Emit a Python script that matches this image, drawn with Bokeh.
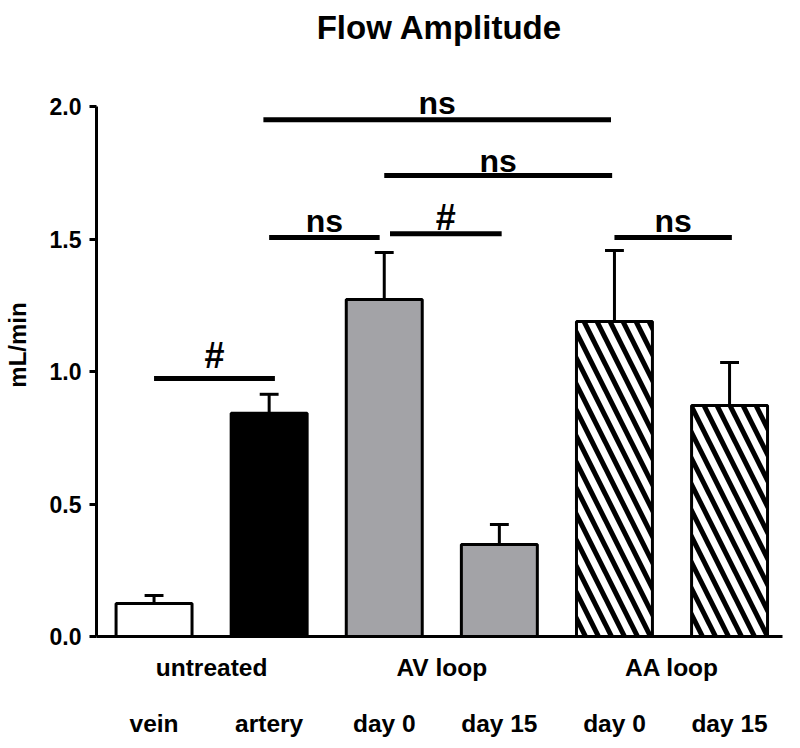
from bokeh.plotting import figure
from bokeh.models import LinearAxis, FixedTicker, PrintfTickFormatter, Range1d, ColumnDataSource
from bokeh.core.properties import value
from bokeh.embed import file_html
from bokeh.resources import INLINE

# ---- data ----
sub_labels = ["vein", "artery", "day 0", "day 15", "day 0", "day 15"]
group_labels = ["untreated", "AV loop", "AA loop"]
means = [0.125, 0.842, 1.272, 0.347, 1.189, 0.872]
err_up = [0.03, 0.072, 0.177, 0.076, 0.268, 0.162]
fills = ["white", "black", "#a3a3a7", "#a3a3a7", "white", "white"]
hatches = [" ", " ", " ", " ", "\\", "\\"]

sig_x0 = [0.0, 1.0, 2.05, 4.0, 2.0, 0.95]
sig_x1 = [1.05, 1.96, 3.02, 5.02, 3.98, 3.97]
sig_y = [0.974, 1.506, 1.52, 1.506, 1.74, 1.95]
sig_text = ["#", "ns", "#", "ns", "ns", "ns"]
sig_text_y = [1.023, 1.532, 1.543, 1.532, 1.758, 1.974]
y_ticks = [0.0, 0.5, 1.0, 1.5, 2.0]

FONT = "Liberation Sans"

xs = list(range(len(means)))
group_pos = [(xs[2 * i] + xs[2 * i + 1]) / 2 for i in range(len(group_labels))]

p = figure(width=784, height=740, x_range=Range1d(-0.5, 5.46), y_range=Range1d(0, 2.2),
           output_backend="svg", toolbar_location=None, title="Flow Amplitude",
           min_border_left=88, min_border_right=2, min_border_top=53, min_border_bottom=104,
           x_axis_type=None)
p.outline_line_color = None
p.grid.visible = False
p.background_fill_color = "white"
p.border_fill_color = "white"

p.title.text_font = FONT
p.title.text_font_size = "33px"
p.title.text_font_style = "bold"
p.title.align = "center"
p.title.vertical_align = "top"
p.title.text_color = "black"
p.title.standoff = 12

ya = p.yaxis[0]
ya.bounds = (0, 2)
ya.ticker = FixedTicker(ticks=y_ticks)
ya.formatter = PrintfTickFormatter(format="%.1f")
ya.axis_line_width = 3
ya.axis_line_color = "black"
ya.major_tick_line_width = 3
ya.major_tick_line_color = "black"
ya.major_tick_out = 7
ya.major_tick_in = 0
ya.minor_tick_out = 0
ya.minor_tick_in = 0
ya.major_label_text_font = FONT
ya.major_label_text_font_size = "23px"
ya.major_label_text_font_style = "bold"
ya.major_label_text_color = "black"
ya.major_label_standoff = 8
ya.axis_label = "mL/min"
ya.axis_label_text_font = FONT
ya.axis_label_text_font_size = "24px"
ya.axis_label_text_font_style = "bold"
ya.axis_label_text_color = "black"
ya.axis_label_standoff = 16

xa1 = LinearAxis(ticker=FixedTicker(ticks=group_pos),
                 major_label_overrides={float(g): t for g, t in zip(group_pos, group_labels)})
xa2 = LinearAxis(ticker=FixedTicker(ticks=xs),
                 major_label_overrides={float(x): t for x, t in zip(xs, sub_labels)})
for ax, so in ((xa1, 17), (xa2, 26)):
    ax.major_tick_line_color = None
    ax.minor_tick_line_color = None
    ax.major_tick_out = 0
    ax.major_tick_in = 0
    ax.minor_tick_out = 0
    ax.minor_tick_in = 0
    ax.major_label_text_font = FONT
    ax.major_label_text_font_size = "24.5px"
    ax.major_label_text_font_style = "bold"
    ax.major_label_text_color = "black"
    ax.major_label_standoff = so
xa1.axis_line_width = 3
xa1.axis_line_color = "black"
xa2.axis_line_color = None
p.add_layout(xa1, "below")
p.add_layout(xa2, "below")

src = ColumnDataSource(dict(x=xs, top=means, fill=fills, hatch=hatches))
p.vbar(x="x", top="top", bottom=0, width=0.66, source=src, fill_color="fill",
       line_color="black", line_width=3, hatch_pattern="hatch", hatch_color="black",
       hatch_scale=26, hatch_weight=5)

# error bars (upward only)
caps = [m + e for m, e in zip(means, err_up)]
p.segment(x0=xs, y0=means, x1=xs, y1=caps, line_color="black", line_width=3)
p.segment(x0=[x - 0.082 for x in xs], y0=caps, x1=[x + 0.082 for x in xs], y1=caps,
          line_color="black", line_width=3)

# significance brackets
p.segment(x0=sig_x0, y0=sig_y, x1=sig_x1, y1=sig_y, line_color="black", line_width=5)
mid = [(a + b) / 2 for a, b in zip(sig_x0, sig_x1)]
for sym, size in (("ns", "32px"), ("#", "36px")):
    idx = [i for i, t in enumerate(sig_text) if t == sym]
    tsrc = ColumnDataSource(dict(x=[mid[i] for i in idx], y=[sig_text_y[i] for i in idx],
                                 t=[sig_text[i] for i in idx]))
    p.text(x="x", y="y", text="t", source=tsrc, text_align="center",
           text_baseline="alphabetic", y_offset=-10, text_font=value(FONT),
           text_font_style="bold", text_font_size=size, text_color="black")

open("out.html", "w").write(file_html(p, INLINE))
